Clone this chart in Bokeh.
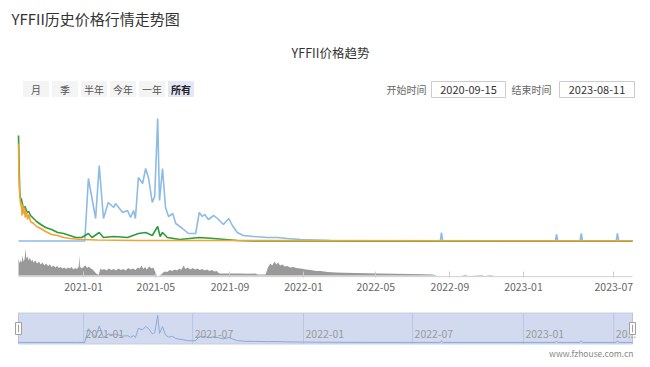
import pandas as pd
from bokeh.plotting import figure
from bokeh.layouts import column
from bokeh.models import Range1d, FixedTicker, Title
from bokeh.core.properties import value
from bokeh.embed import file_html
from bokeh.resources import INLINE

FONT = "Noto Sans CJK SC"

# ---------------- data ----------------
START = "2020-09-15"
END = "2023-08-11"
MISSING = [("2023-03-01", "2023-03-31"), ("2023-07-21", "2023-07-30")]  # days without data

PAGE_TITLE = "YFFII历史价格行情走势图"
CHART_TITLE = "YFFII价格趋势"
BUTTONS = ["月", "季", "半年", "今年", "一年", "所有"]
SELECTED = "所有"
START_LABEL = "开始时间"
END_LABEL = "结束时间"

blue_dates = ["2020-09-15", "2020-12-20", "2021-01-03", "2021-01-09", "2021-01-21", "2021-01-27",
              "2021-02-03", "2021-02-11", "2021-02-20", "2021-02-23", "2021-03-07", "2021-03-15",
              "2021-03-20", "2021-03-25", "2021-03-28", "2021-04-02", "2021-04-09", "2021-04-14",
              "2021-04-19", "2021-04-25", "2021-04-29", "2021-05-04", "2021-05-07", "2021-05-12",
              "2021-05-17", "2021-05-22", "2021-05-29", "2021-06-03", "2021-06-14", "2021-06-24",
              "2021-07-06", "2021-07-12", "2021-07-17", "2021-07-21", "2021-07-27", "2021-08-05",
              "2021-08-13", "2021-08-21", "2021-08-30", "2021-09-05", "2021-09-13", "2021-09-23",
              "2021-10-10", "2021-11-02", "2021-11-19", "2021-12-05", "2021-12-27", "2022-02-15",
              "2022-04-10", "2022-06-15", "2022-08-16", "2022-08-18", "2022-08-20", "2023-02-23",
              "2023-02-25", "2023-02-27", "2023-05-06", "2023-05-08", "2023-05-10", "2023-07-05",
              "2023-07-07", "2023-07-09", "2023-08-11"]
blue_vals = [0.05, 0.05, 0.05, 6.3, 2.3, 7.6,
             2.3, 3.9, 3.4, 3.8, 2.9, 3.1,
             2.4, 3.1, 2.3, 6.4, 5.8, 7.3,
             6.3, 3.9, 4.5, 12.3, 4.1, 7.3,
             3.4, 2.5, 2.8, 1.8, 1.3, 0.8,
             0.8, 2.9, 2.5, 2.7, 2.2, 2.6,
             2.2, 1.7, 2.3, 1.6, 0.9, 0.6,
             0.5, 0.4, 0.4, 0.3, 0.2, 0.1,
             0.05, 0.05, 0.05, 0.9, 0.05, 0.05,
             0.7, 0.05, 0.05, 0.8, 0.05, 0.05,
             0.8, 0.05, 0.05]

green_dates = ["2020-09-15", "2020-09-17", "2020-09-18", "2020-09-20", "2020-09-22", "2020-09-24",
               "2020-09-26", "2020-09-29", "2020-10-02", "2020-10-05", "2020-10-10", "2020-10-15",
               "2020-10-22", "2020-10-30", "2020-11-09", "2020-11-19", "2020-11-29", "2020-12-09",
               "2020-12-19", "2020-12-29", "2021-01-09", "2021-01-15", "2021-01-27", "2021-02-03",
               "2021-02-20", "2021-03-15", "2021-04-02", "2021-04-14", "2021-04-25", "2021-05-04",
               "2021-05-08", "2021-05-12", "2021-05-20", "2021-06-10", "2021-07-12", "2021-08-05",
               "2021-09-13", "2021-10-10", "2023-08-11"]
green_vals = [10.6, 5.0, 4.4, 4.2, 3.6, 3.3,
              3.5, 2.9, 3.0, 2.6, 2.3, 2.0,
              1.7, 1.4, 1.2, 0.9, 0.8, 0.6,
              0.4, 0.4, 0.8, 0.4, 0.9, 0.4,
              0.5, 0.4, 0.8, 0.9, 0.6, 1.5,
              0.5, 0.9, 0.4, 0.2, 0.4, 0.3,
              0.1, 0.05, 0.05]

orange_dates = ["2020-09-15", "2020-09-16", "2020-09-18", "2020-09-20", "2020-09-21", "2020-09-22",
                "2020-09-23", "2020-09-25", "2020-09-26", "2020-09-28", "2020-09-30", "2020-10-02",
                "2020-10-05", "2020-10-10", "2020-10-15", "2020-10-22", "2020-10-30", "2020-11-09",
                "2020-11-19", "2020-11-29", "2020-12-09", "2020-12-29", "2021-01-23", "2021-04-03",
                "2023-08-11"]
orange_vals = [9.8, 6.0, 4.0, 3.4, 2.6, 3.7,
               2.8, 3.4, 2.4, 3.0, 2.2, 2.7,
               2.0, 1.8, 1.5, 1.3, 1.0, 0.7,
               0.6, 0.4, 0.3, 0.2, 0.15, 0.1,
               0.07]

vol_dates = ["2020-09-15", "2020-09-17", "2020-09-18", "2020-09-20", "2020-09-22", "2020-09-23",
             "2020-09-25", "2020-09-27", "2020-09-28", "2020-09-30", "2020-10-02", "2020-10-04",
             "2020-10-06", "2020-10-08", "2020-10-10", "2020-10-13", "2020-10-16", "2020-10-19",
             "2020-10-22", "2020-10-25", "2020-10-28", "2020-10-31", "2020-11-03", "2020-11-06",
             "2020-11-09", "2020-11-12", "2020-11-15", "2020-11-18", "2020-11-21", "2020-11-24",
             "2020-11-27", "2020-11-30", "2020-12-03", "2020-12-06", "2020-12-09", "2020-12-12",
             "2020-12-15", "2020-12-18", "2020-12-21", "2020-12-24", "2020-12-25", "2020-12-26",
             "2020-12-29", "2021-01-01", "2021-01-04", "2021-01-07", "2021-01-10", "2021-01-13",
             "2021-01-16", "2021-01-19", "2021-01-22", "2021-01-26", "2021-01-29", "2021-02-01",
             "2021-02-04", "2021-02-08", "2021-02-12", "2021-02-16", "2021-02-20", "2021-02-24",
             "2021-02-28", "2021-03-04", "2021-03-08", "2021-03-12", "2021-03-16", "2021-03-20",
             "2021-03-24", "2021-03-28", "2021-04-01", "2021-04-04", "2021-04-07", "2021-04-10",
             "2021-04-13", "2021-04-16", "2021-04-20", "2021-04-24", "2021-04-27", "2021-04-30",
             "2021-05-03", "2021-05-06", "2021-05-10", "2021-05-13", "2021-05-16", "2021-05-20",
             "2021-05-24", "2021-05-28", "2021-06-01", "2021-06-05", "2021-06-09", "2021-06-12",
             "2021-06-16", "2021-06-19", "2021-06-23", "2021-06-27", "2021-07-01", "2021-07-05",
             "2021-07-09", "2021-07-13", "2021-07-17", "2021-07-21", "2021-07-25", "2021-07-29",
             "2021-08-02", "2021-08-06", "2021-08-10", "2021-08-13", "2021-08-16", "2021-08-25",
             "2021-09-05", "2021-09-18", "2021-10-01", "2021-10-13", "2021-10-17", "2021-10-30",
             "2021-11-03", "2021-11-07", "2021-11-10", "2021-11-14", "2021-11-17", "2021-11-20",
             "2021-11-23", "2021-11-27", "2021-12-01", "2021-12-05", "2021-12-10", "2021-12-15",
             "2021-12-20", "2021-12-27", "2022-01-05", "2022-01-13", "2022-01-22", "2022-01-29",
             "2022-02-10", "2022-02-23", "2022-03-10", "2022-03-28", "2022-04-15", "2022-05-09",
             "2022-06-01", "2022-06-28", "2022-07-20", "2022-08-03", "2022-08-11", "2022-09-20",
             "2022-09-27", "2022-10-01", "2022-10-25", "2022-10-28", "2022-11-07", "2022-11-14",
             "2023-08-11"]
vol_vals = [170, 120, 150, 130, 200, 140,
            160, 270, 170, 190, 150, 180,
            140, 160, 130, 150, 120, 140,
            110, 130, 100, 120, 95, 110,
            85, 100, 80, 95, 75, 85,
            70, 80, 65, 80, 70, 85,
            60, 75, 65, 90, 200, 90,
            70, 85, 100, 75, 90, 70,
            60, 40, 20, 5, 70, 55,
            65, 50, 70, 55, 65, 50,
            70, 55, 65, 50, 75, 60,
            70, 55, 80, 70, 100, 65,
            85, 60, 90, 70, 80, 30,
            0, 0, 10, 30, 40, 35,
            55, 45, 60, 50, 70, 55,
            100, 65, 80, 60, 75, 60,
            70, 55, 65, 50, 60, 45,
            55, 40, 45, 25, 20, 20,
            20, 20, 18, 20, 10, 10,
            80, 120, 100, 140, 110, 130,
            100, 110, 90, 95, 80, 85,
            75, 70, 60, 55, 45, 45,
            35, 30, 28, 25, 22, 20,
            18, 15, 12, 10, 0, 0,
            8, 0, 5, 0, 5, 0,
            0]

AXIS_TICK_DATES = ["2021-01-01", "2021-05-01", "2021-09-01", "2022-01-01",
                   "2022-05-01", "2022-09-01", "2023-01-01", "2023-07-01"]
AXIS_TICK_LABELS = ["2021-01", "2021-05", "2021-09", "2022-01",
                    "2022-05", "2022-09", "2023-01", "2023-07"]
ZOOM_TICK_DATES = ["2021-01-01", "2021-07-01", "2022-01-01", "2022-07-01", "2023-01-01", "2023-07-01"]
ZOOM_TICK_LABELS = ["2021-01", "2021-07", "2022-01", "2022-07", "2023-01", "20..."]

WATERMARK = "www.fzhouse.com.cn"

for a, b in [(blue_dates, blue_vals), (green_dates, green_vals),
             (orange_dates, orange_vals), (vol_dates, vol_vals)]:
    assert len(a) == len(b), (len(a), len(b))

# ---------------- category index (ECharts-style category axis) ----------------
days = pd.date_range(START, END)
for a, b in MISSING:
    days = days[(days < pd.Timestamp(a)) | (days > pd.Timestamp(b))]
pos = {d.strftime("%Y-%m-%d"): i for i, d in enumerate(days)}
N = len(days)


def ix(dates):
    return [pos[d] for d in dates]


# ---------------- layout constants ----------------
W = 650
BL, BR = 10, 10                 # common frame borders (column aligns frames)
PLOT_L, PLOT_R = 18, 632        # where the data starts / ends on screen
px_per_ix = (PLOT_R - PLOT_L) / (N - 1)
XR = (-(PLOT_L - BL) / px_per_ix, N - 1 + (W - BR - PLOT_R) / px_per_ix)

# ---------------- header ----------------
hdr = figure(width=W, height=108, x_range=Range1d(BL, W - BR), y_range=Range1d(108, 0),
             output_backend="svg", toolbar_location=None, min_border=0,
             min_border_left=BL, min_border_right=BR,
             x_axis_location=None, y_axis_location=None)
hdr.outline_line_color = None
hdr.grid.visible = False

hdr.text(x=[11], y=[18], text=[PAGE_TITLE], text_font=value(FONT), text_font_size="15px",
         text_color="#333333", text_align="left", text_baseline="middle")
hdr.text(x=[330], y=[52], text=[CHART_TITLE], text_font=value(FONT), text_font_size="12.5px",
         text_color="#333333", text_align="center", text_baseline="middle")

bx = [35.5 + 29 * i for i in range(len(BUTTONS))]
bfill = ["#e4e8f6" if b == SELECTED else "#f4f4f4" for b in BUTTONS]
hdr.rect(x=bx, y=[88.5] * len(BUTTONS), width=26, height=16, fill_color=bfill, line_color=None)
hdr.text(x=bx, y=[88.5] * len(BUTTONS), text=BUTTONS, text_font=value(FONT), text_font_size="10px",
         text_color=["#222222" if b == SELECTED else "#555555" for b in BUTTONS],
         text_font_style=["bold" if b == SELECTED else "normal" for b in BUTTONS],
         text_align="center", text_baseline="middle")

hdr.text(x=[406, 531], y=[88.5, 88.5], text=[START_LABEL, END_LABEL], text_font=value(FONT),
         text_font_size="10px", text_color="#666666", text_align="center", text_baseline="middle")
hdr.rect(x=[468, 596.5], y=[89, 89], width=[74, 75], height=16, fill_color="white",
         line_color="#cccccc", line_width=1)
hdr.text(x=[468, 596.5], y=[89, 89], text=[START, END], text_font=value(FONT),
         text_font_size="11px", text_color="#333333", text_align="center", text_baseline="middle")

# ---------------- main chart ----------------
ch = figure(width=W, height=191, x_range=Range1d(*XR), y_range=Range1d(-3.6, 13.3),
            output_backend="svg", toolbar_location=None,
            min_border_left=BL, min_border_right=BR, min_border_top=0, min_border_bottom=22,
            y_axis_location=None)
ch.outline_line_color = None
ch.grid.visible = False
ch.extra_y_ranges = {"vol": Range1d(-20, 1670)}

ch.varea(x=ix(vol_dates), y1=[0] * len(vol_vals), y2=vol_vals, y_range_name="vol",
         fill_color="#999999")
ch.segment(x0=[0], x1=[N - 1], y0=[-12], y1=[-12], y_range_name="vol",
           line_color="#cccccc", line_width=1)
ch.line(ix(blue_dates), blue_vals, line_color="#8dbbe7", line_width=1.6)
ch.line(ix(green_dates), green_vals, line_color="#2f9a3c", line_width=1.6)
ch.line(ix(orange_dates), orange_vals, line_color="#f0a431", line_width=1.6)

ax = ch.xaxis[0]
tick_ix = ix(AXIS_TICK_DATES)
ax.ticker = FixedTicker(ticks=tick_ix)
ax.major_label_overrides = {t: l for t, l in zip(tick_ix, AXIS_TICK_LABELS)}
ax.axis_line_color = None
ax.major_tick_line_color = "#cccccc"
ax.major_tick_in = 6
ax.major_tick_out = 0
ax.minor_tick_line_color = None
ax.major_label_standoff = 5
ax.major_label_text_font = FONT
ax.major_label_text_font_size = "10.5px"
ax.major_label_text_color = "#666666"

# ---------------- data zoom slider ----------------
sl = figure(width=W, height=68, x_range=Range1d(*XR), y_range=Range1d(-0.91, 13.67),
            output_backend="svg", toolbar_location=None,
            min_border_left=BL, min_border_right=BR, min_border_top=13, min_border_bottom=23,
            x_axis_location=None, y_axis_location=None)
sl.outline_line_color = None
sl.grid.visible = False
sl.extra_y_ranges = {"band": Range1d(0, 1)}

sl.quad(left=[0], right=[N - 1], bottom=[0.01], top=[0.99], y_range_name="band",
        fill_color="#d1daef", line_color="#b9c4de", line_width=1)
zt = ix(ZOOM_TICK_DATES)
sl.segment(x0=zt, x1=zt, y0=[0.01] * len(zt), y1=[0.99] * len(zt), y_range_name="band",
           line_color="#bcc6df", line_width=1)
sl.line(ix(blue_dates), blue_vals, line_color="#8ea8d8", line_width=1)
sl.text(x=zt, y=[0.34] * len(zt), text=ZOOM_TICK_LABELS, y_range_name="band", x_offset=2,
        text_font=value(FONT), text_font_size="10.5px", text_color="#9a9a9a",
        text_align="left", text_baseline="middle")
sl.rect(x=[0, N - 1], y=[0.5, 0.5], width=6, height=12, width_units="screen", height_units="screen",
        y_range_name="band", fill_color="white", line_color="#a0a0a0", line_width=1)
sl.segment(x0=[0, N - 1], x1=[0, N - 1], y0=[0.38, 0.38], y1=[0.62, 0.62], y_range_name="band",
           line_color="#a0a0a0", line_width=1)
sl.add_layout(Title(text=WATERMARK, align="right", text_font=FONT, text_font_size="8.5px",
                    text_color="#888888", text_font_style="normal", offset=7, standoff=0), "below")

layout = column(hdr, ch, sl, spacing=0)
open("out.html", "w").write(file_html(layout, INLINE))
